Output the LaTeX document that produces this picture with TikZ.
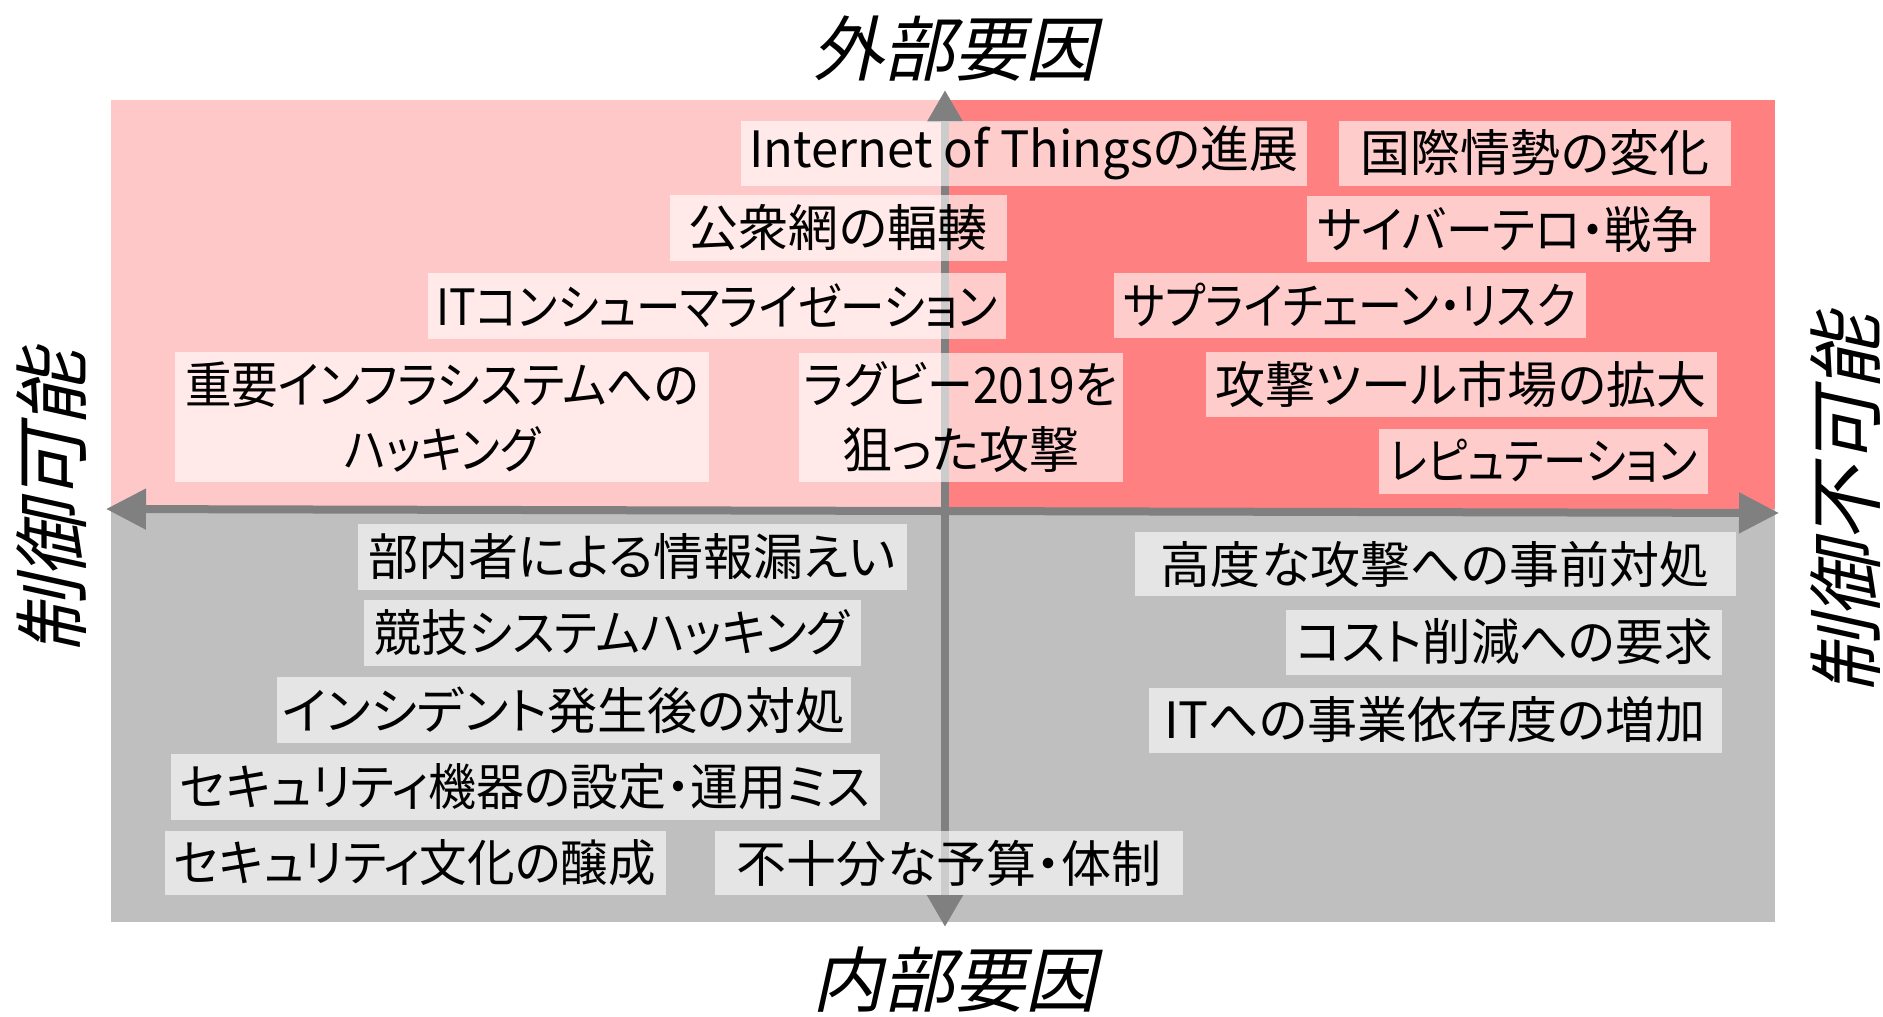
\documentclass[tikz,border=0pt]{standalone}
\usepackage{fontspec}
\usepackage{graphicx}
\usetikzlibrary{arrows.meta}
\setmainfont{Noto Sans CJK JP}
\newfontfamily\jpfont[RawFeature=+palt]{Noto Sans CJK JP}
\newfontfamily\jpit[FakeSlant=0.22]{Noto Sans CJK JP}
\newcommand\hsq[2]{\scalebox{#1}[1]{#2}}
\definecolor{pinkL}{RGB}{255,200,200}
\definecolor{redR}{RGB}{255,128,128}
\definecolor{grayB}{RGB}{191,191,191}
\definecolor{axisG}{RGB}{128,128,128}
\begin{document}
\begin{tikzpicture}[x=1pt,y=-1pt,
  tbox/.style={fill=white, fill opacity=0.6, text opacity=1, inner sep=0pt, align=center,
    font=\jpfont\fontsize{50}{65}\selectfont},
  axlab/.style={inner sep=0pt, font=\jpit\fontsize{71}{71}\selectfont},
  sidelab/.style={inner sep=0pt, rotate=90, font=\jpit\fontsize{76}{76}\selectfont},
  axisline/.style={axisG, line width=8pt}]
\useasboundingbox (0,0) rectangle (1883,1017);
% quadrants
\fill[pinkL] (111,100) rectangle (945,509);
\fill[redR] (945,100) rectangle (1775,509);
\fill[grayB] (111,509) rectangle (1775,922);
% axes
\coordinate (vt) at (945,90);
\coordinate (vb) at (945,927);
\coordinate (hl) at (106,509);
\coordinate (hr) at (1779,513);
\draw[axisline, {Triangle[width=34pt,length=32pt]}-{Triangle[width=34pt,length=32pt]}] (vb) -- (vt);
\draw[axisline, {Triangle[width=39pt,length=40pt]}-{Triangle[width=39pt,length=40pt]}] (hl) -- (hr);
% axis labels
\node[axlab] (top) at (954,49) {外部要因};
\node[axlab] (bot) at (954,980) {内部要因};
\node[sidelab] (lft) at (52,502) {制御可能};
\node[sidelab] (rgt) at (1846,504) {制御不可能};
% upper boxes
\node[tbox, minimum width=566pt, minimum height=65pt] (n1) at (1024,153) {\hsq{0.98}{Internet of Thingsの進展}};
\node[tbox, minimum width=392pt, minimum height=65pt] (n2) at (1535,153) {国際情勢の変化};
\node[tbox, minimum width=337pt, minimum height=66pt] (n3) at (838,228) {公衆網の輻輳};
\node[tbox, minimum width=403pt, minimum height=66pt] (n4) at (1508,229) {\hsq{0.94}{サイバーテロ・戦争}};
\node[tbox, minimum width=578pt, minimum height=66pt] (n5) at (717,306) {\hsq{0.89}{ITコンシューマライゼーション}};
\node[tbox, minimum width=472pt, minimum height=65pt] (n6) at (1350,305) {\hsq{0.88}{サプライチェーン・リスク}};
\node[tbox, minimum width=534pt, minimum height=130pt] (n7) at (442,417) {\hsq{0.93}{重要インフラシステムへの}\\\hsq{0.88}{ハッキング}};
\node[tbox, minimum width=324pt, minimum height=129pt] (n8) at (961,417) {\hsq{0.92}{ラグビー2019を}\\狙った攻撃};
\node[tbox, minimum width=511pt, minimum height=65pt] (n9) at (1461,384) {攻撃ツール市場の拡大};
\node[tbox, minimum width=329pt, minimum height=65pt] (n10) at (1543,461) {\hsq{0.87}{レピュテーション}};
% lower boxes
\node[tbox, minimum width=549pt, minimum height=66pt] (n11) at (632,557) {部内者による情報漏えい};
\node[tbox, minimum width=497pt, minimum height=66pt] (n12) at (612,633) {\hsq{0.94}{競技システムハッキング}};
\node[tbox, minimum width=574pt, minimum height=66pt] (n13) at (564,710) {インシデント発生後の対処};
\node[tbox, minimum width=709pt, minimum height=66pt] (n14) at (525,787) {\hsq{0.96}{セキュリティ機器の設定・運用ミス}};
\node[tbox, minimum width=501pt, minimum height=64pt] (n15) at (415,863) {\hsq{0.95}{セキュリティ文化の醸成}};
\node[tbox, minimum width=468pt, minimum height=64pt] (n16) at (949,863) {不十分な予算・体制};
\node[tbox, minimum width=601pt, minimum height=64pt] (n17) at (1435,564) {高度な攻撃への事前対処};
\node[tbox, minimum width=436pt, minimum height=65pt] (n18) at (1504,642) {\hsq{0.97}{コスト削減への要求}};
\node[tbox, minimum width=573pt, minimum height=65pt] (n19) at (1435,720) {ITへの事業依存度の増加};
\end{tikzpicture}
\end{document}
